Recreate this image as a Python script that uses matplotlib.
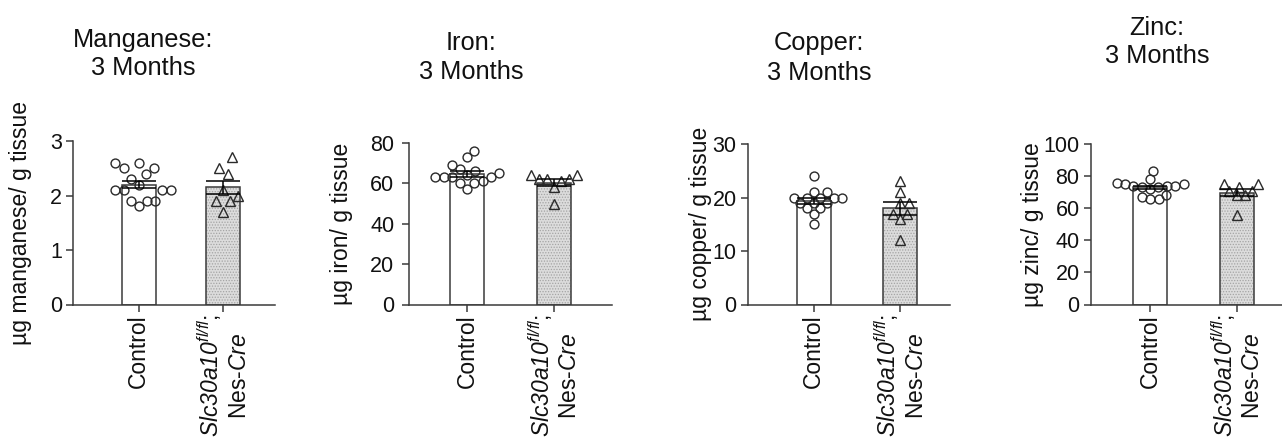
import numpy as np
import matplotlib
matplotlib.use('Agg')
import matplotlib.pyplot as plt

plt.rcParams['font.family'] = ['Liberation Sans', 'DejaVu Sans']
plt.rcParams['mathtext.fontset'] = 'custom'
plt.rcParams['mathtext.rm'] = 'Liberation Sans'
plt.rcParams['mathtext.it'] = 'Liberation Sans:italic'
# 'it' sends digits back to upright, so italic gene names go through \mathsf
plt.rcParams['mathtext.sf'] = 'Liberation Sans:italic'
plt.rcParams['hatch.linewidth'] = 0.6

W, H = 1282, 437
INK = '#111111'
LINE = '#3a3a3a'

groups = ['Control', '$\\mathsf{Slc30a10}^{\\mathsf{fl/fl}}$;\nNes-$\\mathsf{Cre}$']

# values (per animal)
manganese_ctrl = [2.6, 2.5, 2.5, 2.6, 2.4, 2.3, 2.2, 2.1, 2.1, 2.1, 2.1, 1.8, 1.9, 1.9, 1.9]
manganese_ko   = [2.5, 2.7, 2.4, 2.1, 2.0, 1.9, 1.9, 1.7]
iron_ctrl      = [66, 61, 63, 57, 73, 76, 69, 63, 65, 60, 64, 60, 63, 67, 63]
iron_ko        = [64, 62, 61, 64, 58, 62, 62, 50]
copper_ctrl    = [24, 20, 20, 20, 20, 20, 21, 21, 19, 19, 19, 18, 18, 17, 15]
copper_ko      = [23, 21, 19, 19, 17, 17, 16, 12]
zinc_ctrl      = [78, 72, 83, 73, 74, 75, 74, 73, 75, 74, 76, 66, 68, 66, 67]
zinc_ko        = [71, 75, 75, 73, 71, 68, 68, 56]

titles  = ['Manganese:', 'Iron:', 'Copper:', 'Zinc:']
ylabels = ['µg manganese/ g tissue', 'µg iron/ g tissue',
           'µg copper/ g tissue', 'µg zinc/ g tissue']
yticks  = [[0, 1, 2, 3], [0, 20, 40, 60, 80], [0, 10, 20, 30], [0, 20, 40, 60, 80, 100]]
data = [(manganese_ctrl, manganese_ko), (iron_ctrl, iron_ko),
        (copper_ctrl, copper_ko), (zinc_ctrl, zinc_ko)]

# layout in pixels: axis left/right, bar centres, top, title x/baselines, ylabel right edge, tick pad
layout = [
    dict(l=73,   r=275,  c0=138.7,  c1=223.3,  top=141, tx=143,  tb=(47, 75), yl=32,   pad=3.0, k=0.45),
    dict(l=409,  r=612,  c0=467.0,  c1=553.7,  top=143, tx=471,  tb=(50, 79), yl=353,  pad=6.0, k=0.7),
    dict(l=748,  r=950,  c0=813.7,  c1=900.0,  top=144, tx=819,  tb=(50, 80), yl=712,  pad=3.5, k=1.0),
    dict(l=1091, r=1291, c0=1150.0, c1=1236.5, top=144, tx=1157, tb=(35, 63), yl=1044, pad=3.5, k=1.0),
]
BOTTOM = 304.5
BAR_PX = 34
DOT_PX = 8.5


def swarm(vals, px_per_unit, d, k=1.0):
    """simple beeswarm: x offsets (px) so markers don't overlap.
    k < 1 squashes vertical distance so points spread out more sideways."""
    offs = np.zeros(len(vals))
    placed = []
    for i in np.argsort(vals):
        y = vals[i] * px_per_unit * k
        cands = [0.0]
        for px, py in placed:
            dy = y - py
            if abs(dy) < d:
                dx = np.sqrt(d * d - dy * dy)
                cands += [px + dx, px - dx]
        cands.sort(key=abs)
        for c in cands:
            if all((c - px) ** 2 + (y - py) ** 2 >= d * d - 1e-6 for px, py in placed):
                offs[i] = c
                placed.append((c, y))
                break
    return offs


fig = plt.figure(figsize=(W / 100, H / 100), dpi=100)

for n, (lay, (ctrl, ko)) in enumerate(zip(layout, data)):
    ax = fig.add_axes([lay['l'] / W, 1 - BOTTOM / H,
                       (lay['r'] - lay['l']) / W, (BOTTOM - lay['top']) / H])
    spacing = lay['c1'] - lay['c0']
    ax.set_xlim(-(lay['c0'] - lay['l']) / spacing, 1 + (lay['r'] - lay['c1']) / spacing)
    ymax = yticks[n][-1]
    ax.set_ylim(0, ymax)
    ypx = (BOTTOM - lay['top']) / ymax
    bw = BAR_PX / spacing

    for g, (vals, marker) in enumerate([(ctrl, 'o'), (ko, '^')]):
        vals = np.asarray(vals, float)
        m = vals.mean()
        sem = vals.std(ddof=1) / np.sqrt(len(vals))
        if g == 0:
            ax.bar(g, m, width=bw, facecolor='white', edgecolor=LINE, lw=1.1, zorder=1)
        else:
            ax.bar(g, m, width=bw, facecolor='#dcdcdc', edgecolor='none', lw=0, zorder=1)
            ax.bar(g, m, width=bw, facecolor='none', edgecolor='#a4a4a4',
                   hatch='......', lw=0, zorder=1.1)
            ax.bar(g, m, width=bw, facecolor='none', edgecolor=LINE, lw=1.1, zorder=1.2)
        offs = swarm(vals, ypx, DOT_PX, lay['k']) / spacing
        ax.plot(g + offs, vals, ls='none', marker=marker, ms=6.4 if marker == 'o' else 6.9,
                mfc='none', mec='#2a2a2a', mew=1.0, zorder=3, clip_on=False)
        ax.errorbar(g, m, yerr=sem, fmt='none', ecolor='black', elinewidth=1.1,
                    capsize=12.2, capthick=1.1, zorder=4)

    for s in ['top', 'right']:
        ax.spines[s].set_visible(False)
    for s in ['left', 'bottom']:
        ax.spines[s].set_color(LINE)
        ax.spines[s].set_linewidth(1.1)
    ax.set_yticks(yticks[n])
    ax.set_xticks([0, 1])
    ax.set_xticklabels(groups, rotation=90, va='top', ha='center',
                       multialignment='center', fontsize=16.5, color=INK)
    ax.tick_params(axis='both', length=4.7, width=1.1, color=LINE)
    ax.tick_params(axis='y', labelsize=15.5, labelcolor=INK, pad=lay['pad'])
    ax.tick_params(axis='x', pad=2.5)
    ax.set_ylabel(ylabels[n], fontsize=16.5, color=INK)
    ax.yaxis.set_label_coords((lay['yl'] - lay['l']) / (lay['r'] - lay['l']), 0.5)

    fig.text(lay['tx'] / W, 1 - lay['tb'][0] / H, titles[n], ha='center',
             va='baseline', fontsize=18.3, color=INK)
    fig.text(lay['tx'] / W, 1 - lay['tb'][1] / H, '3 Months', ha='center',
             va='baseline', fontsize=18.3, color=INK)

fig.savefig('out.png', dpi=100, facecolor='white')
